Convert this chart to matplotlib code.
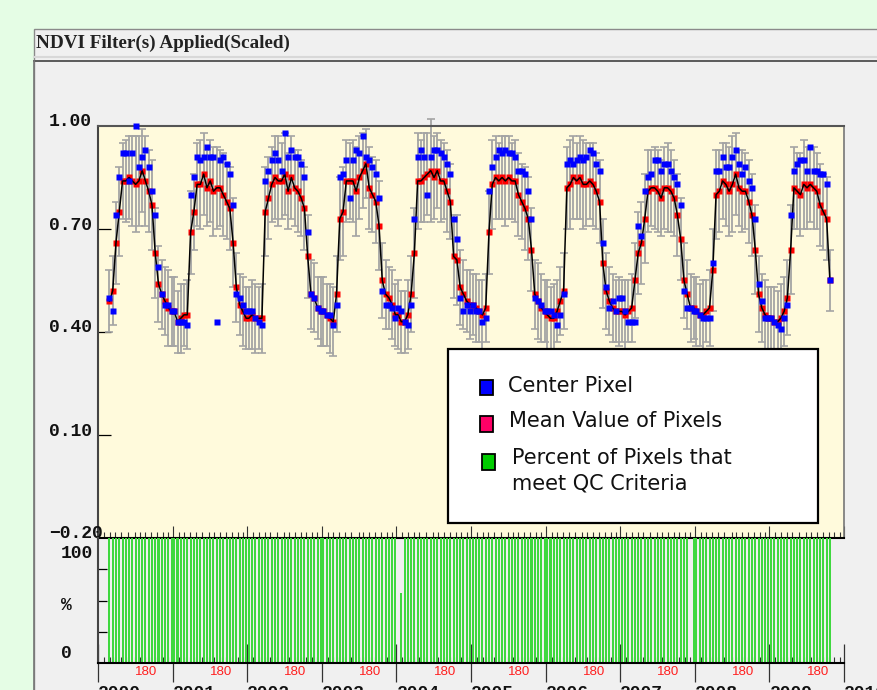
import matplotlib
matplotlib.use("Agg")
import matplotlib.pyplot as plt
from matplotlib.patches import Rectangle
from matplotlib.transforms import blended_transform_factory as blend, ScaledTranslation

# ---------------- data ----------------
YEARS = [2000, 2001, 2002, 2003, 2004, 2005, 2006, 2007, 2008, 2009]
COMPOSITE_DOY = [1, 17, 33, 49, 65, 81, 97, 113, 129, 145, 161, 177,
                 193, 209, 225, 241, 257, 273, 289, 305, 321, 337, 353]
FIRST_DOY = 49     # series starts 2000 day 49
LAST_DOY = 289     # series ends 2009 day 289

MEAN_2000 = [0.49, 0.52, 0.66, 0.75, 0.84, 0.84, 0.85, 0.84, 0.83, 0.84, 0.87, 0.84, 0.81, 0.77, 0.63, 0.54, 0.51, 0.49, 0.47, 0.46]
MEAN_2001 = [0.46, 0.43, 0.44, 0.45, 0.45, 0.69, 0.75, 0.83, 0.83, 0.86, 0.82, 0.84, 0.81, 0.82, 0.82, 0.80, 0.78, 0.76, 0.66, 0.53, 0.48, 0.46, 0.44]
MEAN_2002 = [0.44, 0.45, 0.44, 0.44, 0.44, 0.75, 0.79, 0.83, 0.85, 0.84, 0.84, 0.86, 0.81, 0.85, 0.82, 0.81, 0.79, 0.76, 0.62, 0.51, 0.50, 0.47, 0.46]
MEAN_2003 = [0.46, 0.45, 0.44, 0.43, 0.51, 0.73, 0.75, 0.84, 0.84, 0.84, 0.81, 0.85, 0.87, 0.89, 0.82, 0.80, 0.78, 0.71, 0.55, 0.51, 0.50, 0.48, 0.45]
MEAN_2004 = [0.45, 0.43, 0.43, 0.45, 0.51, 0.63, 0.84, 0.84, 0.85, 0.86, 0.87, 0.85, 0.87, 0.84, 0.84, 0.81, 0.78, 0.62, 0.61, 0.53, 0.51, 0.49, 0.48]
MEAN_2005 = [0.48, 0.47, 0.46, 0.45, 0.47, 0.69, 0.83, 0.85, 0.84, 0.85, 0.84, 0.85, 0.84, 0.84, 0.80, 0.78, 0.76, 0.73, 0.64, 0.51, 0.49, 0.47, 0.46]
MEAN_2006 = [0.45, 0.44, 0.44, 0.46, 0.49, 0.52, 0.82, 0.83, 0.85, 0.84, 0.85, 0.83, 0.83, 0.84, 0.83, 0.81, 0.78, 0.60, 0.52, 0.49, 0.47, 0.46, 0.46]
MEAN_2007 = [0.46, 0.45, 0.46, 0.47, 0.55, 0.63, 0.66, 0.73, 0.81, 0.82, 0.82, 0.81, 0.79, 0.82, 0.82, 0.81, 0.79, 0.74, 0.67, 0.55, 0.51, 0.47, 0.47]
MEAN_2008 = [0.46, 0.45, 0.45, 0.46, 0.47, 0.58, 0.80, 0.81, 0.84, 0.83, 0.81, 0.83, 0.86, 0.82, 0.81, 0.81, 0.78, 0.74, 0.64, 0.51, 0.47, 0.45, 0.44]
MEAN_2009 = [0.44, 0.43, 0.43, 0.44, 0.46, 0.50, 0.64, 0.82, 0.81, 0.80, 0.83, 0.82, 0.83, 0.82, 0.81, 0.77, 0.75, 0.73, 0.55]

CENTER_2000 = [0.50, 0.46, 0.74, 0.85, 0.92, 0.92, 0.84, 0.92, 1.00, 0.88, 0.91, 0.93, 0.88, 0.81, 0.74, 0.59, 0.51, 0.48, 0.48, 0.46]
CENTER_2001 = [0.46, 0.43, 0.43, 0.43, 0.42, 0.80, 0.85, 0.91, 0.90, 0.91, 0.94, 0.91, 0.91, 0.43, 0.90, 0.91, 0.89, 0.86, 0.77, 0.51, 0.50, 0.48, 0.46]
CENTER_2002 = [0.46, 0.46, 0.44, 0.43, 0.42, 0.84, 0.87, 0.90, 0.92, 0.90, 0.87, 0.98, 0.91, 0.93, 0.91, 0.91, 0.89, 0.85, 0.69, 0.51, 0.50, 0.47, 0.46]
CENTER_2003 = [0.46, 0.45, 0.45, 0.42, 0.48, 0.85, 0.86, 0.90, 0.79, 0.90, 0.93, 0.92, 0.97, 0.91, 0.90, 0.88, 0.86, 0.79, 0.52, 0.48, 0.48, 0.47, 0.44]
CENTER_2004 = [0.47, 0.46, 0.43, 0.42, 0.48, 0.73, 0.91, 0.93, 0.91, 0.80, 0.91, 0.93, 0.93, 0.92, 0.91, 0.89, 0.86, 0.73, 0.67, 0.50, 0.46, 0.48, 0.46]
CENTER_2005 = [0.48, 0.46, 0.46, 0.43, 0.44, 0.81, 0.88, 0.91, 0.93, 0.92, 0.93, 0.92, 0.92, 0.91, 0.87, 0.87, 0.86, 0.81, 0.73, 0.50, 0.49, 0.48, 0.46]
CENTER_2006 = [0.46, 0.46, 0.45, 0.42, 0.45, 0.51, 0.89, 0.90, 0.89, 0.90, 0.91, 0.90, 0.91, 0.93, 0.92, 0.89, 0.87, 0.66, 0.53, 0.47, 0.49, 0.46, 0.50]
CENTER_2007 = [0.50, 0.46, 0.43, 0.43, 0.43, 0.71, 0.68, 0.81, 0.85, 0.86, 0.90, 0.90, 0.87, 0.89, 0.89, 0.87, 0.85, 0.83, 0.77, 0.52, 0.47, 0.47, 0.46]
CENTER_2008 = [0.46, 0.45, 0.44, 0.44, 0.44, 0.60, 0.87, 0.87, 0.91, 0.88, 0.88, 0.91, 0.93, 0.89, 0.86, 0.88, 0.84, 0.82, 0.73, 0.54, 0.49, 0.44, 0.44]
CENTER_2009 = [0.44, 0.43, 0.42, 0.41, 0.44, 0.48, 0.74, 0.87, 0.89, 0.90, 0.90, 0.87, 0.94, 0.87, 0.87, 0.86, 0.86, 0.83, 0.55]

STD_2000 = [0.09, 0.10, 0.12, 0.13, 0.11, 0.12, 0.12, 0.13, 0.14, 0.13, 0.12, 0.13, 0.12, 0.13, 0.13, 0.11, 0.10, 0.10, 0.11, 0.10]
STD_2001 = [0.10, 0.09, 0.10, 0.09, 0.10, 0.12, 0.11, 0.12, 0.13, 0.12, 0.11, 0.12, 0.13, 0.12, 0.11, 0.12, 0.11, 0.12, 0.13, 0.10, 0.09, 0.10, 0.09]
STD_2002 = [0.09, 0.10, 0.10, 0.09, 0.10, 0.13, 0.12, 0.11, 0.12, 0.13, 0.11, 0.12, 0.11, 0.12, 0.11, 0.12, 0.11, 0.12, 0.12, 0.10, 0.10, 0.09, 0.10]
STD_2003 = [0.10, 0.09, 0.10, 0.10, 0.11, 0.12, 0.13, 0.12, 0.11, 0.12, 0.13, 0.12, 0.11, 0.10, 0.12, 0.11, 0.12, 0.13, 0.11, 0.10, 0.09, 0.10, 0.09]
STD_2004 = [0.10, 0.09, 0.09, 0.10, 0.11, 0.13, 0.14, 0.12, 0.13, 0.12, 0.15, 0.12, 0.11, 0.12, 0.11, 0.12, 0.11, 0.12, 0.13, 0.11, 0.10, 0.09, 0.10]
STD_2005 = [0.09, 0.10, 0.09, 0.10, 0.10, 0.12, 0.13, 0.12, 0.11, 0.12, 0.13, 0.12, 0.11, 0.12, 0.12, 0.11, 0.12, 0.12, 0.12, 0.10, 0.11, 0.10, 0.09]
STD_2006 = [0.10, 0.09, 0.10, 0.09, 0.10, 0.11, 0.12, 0.13, 0.12, 0.11, 0.12, 0.13, 0.12, 0.11, 0.12, 0.11, 0.12, 0.13, 0.11, 0.10, 0.10, 0.09, 0.10]
STD_2007 = [0.09, 0.10, 0.09, 0.10, 0.11, 0.12, 0.12, 0.13, 0.12, 0.11, 0.12, 0.12, 0.11, 0.12, 0.13, 0.12, 0.11, 0.12, 0.12, 0.11, 0.10, 0.10, 0.09]
STD_2008 = [0.10, 0.09, 0.10, 0.09, 0.11, 0.12, 0.13, 0.12, 0.11, 0.12, 0.13, 0.14, 0.12, 0.11, 0.12, 0.11, 0.12, 0.12, 0.13, 0.11, 0.10, 0.10, 0.09]
STD_2009 = [0.09, 0.10, 0.09, 0.10, 0.10, 0.11, 0.13, 0.12, 0.11, 0.12, 0.13, 0.12, 0.11, 0.12, 0.11, 0.12, 0.11, 0.12, 0.09]

PCT_2000 = [100, 100, 100, 100, 100, 100, 100, 100, 100, 100, 100, 100, 100, 100, 100, 100, 100, 100, 100, 100]
PCT_2001 = [100, 100, 100, 100, 100, 100, 100, 100, 100, 100, 100, 100, 100, 100, 100, 100, 100, 100, 100, 100, 100, 100, 100]
PCT_2002 = [100, 100, 100, 100, 100, 100, 100, 100, 100, 100, 100, 100, 100, 100, 100, 100, 100, 100, 100, 100, 100, 100, 100]
PCT_2003 = [100, 100, 100, 100, 100, 100, 100, 100, 100, 100, 100, 100, 100, 100, 100, 100, 100, 100, 100, 100, 100, 100, 100]
PCT_2004 = [0, 56, 100, 100, 100, 100, 100, 100, 100, 100, 100, 100, 100, 100, 100, 100, 100, 100, 100, 100, 100, 100, 100]
PCT_2005 = [100, 100, 100, 100, 100, 100, 100, 100, 100, 100, 100, 100, 100, 100, 100, 100, 100, 100, 100, 100, 100, 100, 100]
PCT_2006 = [100, 100, 100, 100, 100, 100, 100, 100, 100, 100, 100, 100, 100, 100, 100, 100, 100, 100, 100, 100, 100, 100, 100]
PCT_2007 = [100, 100, 100, 100, 100, 100, 100, 100, 100, 100, 100, 100, 100, 100, 100, 100, 100, 100, 100, 100, 100, 0, 100]
PCT_2008 = [100, 100, 100, 100, 100, 100, 100, 100, 100, 100, 100, 100, 100, 100, 100, 100, 100, 100, 100, 100, 100, 100, 100]
PCT_2009 = [100, 100, 100, 100, 100, 100, 100, 100, 100, 100, 100, 100, 100, 100, 100, 100, 100, 100, 100]

MEANS = [MEAN_2000, MEAN_2001, MEAN_2002, MEAN_2003, MEAN_2004, MEAN_2005, MEAN_2006, MEAN_2007, MEAN_2008, MEAN_2009]
CENTERS = [CENTER_2000, CENTER_2001, CENTER_2002, CENTER_2003, CENTER_2004, CENTER_2005, CENTER_2006, CENTER_2007, CENTER_2008, CENTER_2009]
STDS = [STD_2000, STD_2001, STD_2002, STD_2003, STD_2004, STD_2005, STD_2006, STD_2007, STD_2008, STD_2009]
PCTS = [PCT_2000, PCT_2001, PCT_2002, PCT_2003, PCT_2004, PCT_2005, PCT_2006, PCT_2007, PCT_2008, PCT_2009]

YTICK_VALUES = [1.00, 0.70, 0.40, 0.10, -0.20]
YTICK_LABELS = ["1.00", "0.70", "0.40", "0.10", "\u22120.20"]
MONTH_TICK_DAYS = [29, 57, 85, 113, 145, 180, 204, 232, 261, 290, 318, 343]
RED_DAY = 180

# assemble time axis (decimal year at composite midpoint)
xs, mean, center, std, pct = [], [], [], [], []
for yr, m, c, s, p in zip(YEARS, MEANS, CENTERS, STDS, PCTS):
    doys = [d for d in COMPOSITE_DOY
            if (yr > YEARS[0] or d >= FIRST_DOY) and (yr < YEARS[-1] or d <= LAST_DOY)]
    for d, mv, cv, sv, pv in zip(doys, m, c, s, p):
        xs.append(yr + (d - 1 + 8) / 365.0)
        mean.append(mv); center.append(cv); std.append(sv); pct.append(pv)

# ---------------- figure ----------------
W, H = 877, 690
fig = plt.figure(figsize=(W / 100, H / 100), dpi=100, facecolor='#e5fde5')

bg = fig.add_axes([0, 0, 1, 1])
bg.set_xlim(0, W); bg.set_ylim(H, 0); bg.axis('off')
bg.add_patch(Rectangle((33.5, 28.5), 900, 700, fc='#f0f0f0', ec='#8a8a8a', lw=1.0))
bg.plot([34, W], [57, 57], color='#d8d8d8', lw=1.5)
bg.plot([33.5, W], [61, 61], color='#5a5a5a', lw=1.4)
bg.plot([33.5, 33.5], [61, H], color='#777777', lw=1.2)
bg.text(36, 43, 'NDVI Filter(s) Applied(Scaled)', family='Liberation Serif',
        weight='bold', fontsize=13.8, va='center', ha='left', color='#222222')

L, AW = 98 / W, 746 / W
ax = fig.add_axes([L, 1 - 538 / H, AW, 412 / H], facecolor='#fffadc')
ax2 = fig.add_axes([L, 1 - 663 / H, AW, 125 / H])
ax2.patch.set_alpha(0)

# top panel
eb = ax.errorbar(xs, mean, yerr=std, fmt='none', ecolor='#a4a4a4',
                 elinewidth=1.3, capsize=2.8, capthick=1.2, zorder=2)
for a in list(eb.lines[1]) + list(eb.lines[2]):
    a.set_clip_on(False)
ax.plot(xs, mean, 's', ms=3.8, color='#ff0000', mec='none', zorder=3, clip_on=False)
ax.plot(xs, mean, '-', color='black', lw=1.1, zorder=4)
ax.plot(xs, center, 's', ms=3.8, color='#0000ff', mec='none', zorder=5, clip_on=False)

ax.set_xlim(YEARS[0], YEARS[-1] + 1)
ax.set_ylim(-0.2, 1.0)
minor_pos = [yr + d / 365.0 for yr in YEARS for d in MONTH_TICK_DAYS]
red_flags = [d == RED_DAY for yr in YEARS for d in MONTH_TICK_DAYS]

for a in (ax, ax2):
    a.set_xticks(list(range(YEARS[0], YEARS[-1] + 2)))
    a.set_xticks(minor_pos, minor=True)
    a.tick_params(axis='x', which='minor', direction='in', length=4.3, width=0.8,
                  color='#333333', bottom=True, top=False, labelbottom=False)
    for t, red in zip(a.xaxis.get_minor_ticks(), red_flags):
        if red:
            t.tick1line.set_color('#ff2020')

ax.tick_params(axis='x', which='major', direction='in', length=8.6, width=0.8,
               color='#333333', labelbottom=False)
ax.set_yticks([0.7, 0.4, 0.1])
ax.tick_params(axis='y', direction='in', length=9.4, width=0.9, color='black', labelleft=False)
ax.spines['left'].set_color('#444444'); ax.spines['left'].set_linewidth(1.5)
ax.spines['top'].set_color('#555555'); ax.spines['top'].set_linewidth(1.5)
ax.spines['right'].set_color('#777777'); ax.spines['right'].set_linewidth(1.2)
ax.spines['bottom'].set_color('black'); ax.spines['bottom'].set_linewidth(1.5)

# bottom panel
ax2.bar(xs, pct, width=0.027, color='#3fd83f', lw=0, zorder=2)
ax2.set_xlim(YEARS[0], YEARS[-1] + 1)
ax2.set_ylim(0, 100)
ax2.tick_params(axis='x', which='major', direction='inout', length=27.4, width=0.9,
                color='#333333', labelbottom=False)
ax2.set_yticks([25, 50, 75])
ax2.tick_params(axis='y', direction='in', length=6.5, width=0.9, color='black', labelleft=False)
ax2.spines['top'].set_visible(False)
ax2.spines['right'].set_visible(False)
ax2.spines['left'].set_color('#444444'); ax2.spines['left'].set_linewidth(1.5)
ax2.spines['bottom'].set_color('black'); ax2.spines['bottom'].set_linewidth(1.5)

mono = dict(family='Liberation Mono', weight='bold', fontsize=13, color='#111111')
tr_y = blend(bg.transData, ax.transData) + ScaledTranslation(0, 4 / 100, fig.dpi_scale_trans)
for v, lab in zip(YTICK_VALUES, YTICK_LABELS):
    ax.text(49, v, lab, transform=tr_y, ha='left', va='center', clip_on=False, **mono)

ov = fig.add_axes([0, 0, 1, 1])
ov.set_xlim(0, W); ov.set_ylim(H, 0); ov.axis('off')
ov.text(61, 554, '100', ha='left', va='center', **mono)
ov.text(61, 606, '%', ha='left', va='center', **mono)
ov.text(61, 654, '0', ha='left', va='center', **mono)

tr_x = blend(ax2.transData, ov.transData)
for yr in range(YEARS[0], YEARS[-1] + 2):
    ov.text(yr, 685, str(yr), transform=tr_x, ha='left', va='top', clip_on=False, **mono)
for yr in YEARS:
    ov.text(yr + RED_DAY / 365.0 + 0.004, 666, '180', transform=tr_x, ha='left', va='top',
            family='Liberation Sans', fontsize=9.5, color='#ff2020', clip_on=False)

# legend
ov.add_patch(Rectangle((447.5, 348.5), 370, 174, fc='white', ec='black', lw=1.6, zorder=10))
ov.add_patch(Rectangle((480, 379.5), 13, 15.5, fc='#0000ff', ec='black', lw=1.3, zorder=11))
ov.add_patch(Rectangle((480, 416), 13, 15.5, fc='#ff0066', ec='black', lw=1.3, zorder=11))
ov.add_patch(Rectangle((482, 454), 13, 15.5, fc='#00cc00', ec='black', lw=1.3, zorder=11))
leg = dict(family='DejaVu Sans', fontsize=15, color='#111111', ha='left', va='center', zorder=12)
ov.text(508, 386, 'Center Pixel', **leg)
ov.text(509, 421, 'Mean Value of Pixels', **leg)
ov.text(511.5, 458, 'Percent of Pixels that', **leg)
ov.text(511.5, 483, 'meet QC Criteria', **leg)

fig.savefig('out.png', dpi=100, facecolor=fig.get_facecolor())
